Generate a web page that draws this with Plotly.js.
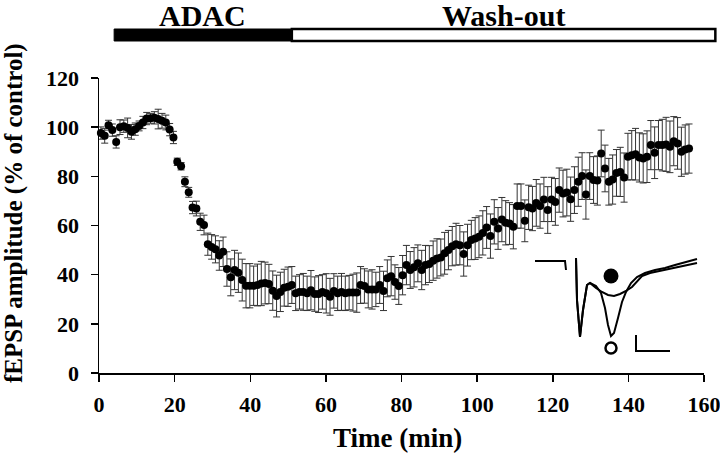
<!DOCTYPE html>
<html><head><meta charset="utf-8">
<script src="https://cdn.plot.ly/plotly-3.0.1.min.js"></script>
<style>html,body{margin:0;padding:0;background:#fff}#chart{width:720px;height:453px}</style>
</head><body><div id="chart"></div>
<script>
// fEPSP amplitude (% of control), one sample per minute
const amplitude = [
  97.6, 96.5, 100.8, 98.8, 94.0, 100.0, 100.4, 99.7, 98.1, 99.2,
  100.5, 101.9, 103.5, 103.6, 103.8, 103.3, 102.6, 101.9, 99.0, 95.8,
  85.9, 84.1, 77.8, 73.5, 67.3, 66.9, 61.5, 60.2, 52.4, 51.3,
  50.3, 47.8, 49.3, 42.3, 38.9, 41.9, 40.8, 37.8, 35.5, 35.5,
  35.5, 35.8, 36.4, 36.6, 36.2, 33.5, 31.3, 33.0, 34.7, 35.1,
  35.8, 32.4, 33.0, 33.0, 32.4, 33.7, 32.1, 32.1, 33.0, 32.4,
  31.0, 33.4, 32.4, 33.0, 32.4, 32.7, 32.7, 32.7, 35.8, 35.4,
  34.0, 34.0, 34.0, 35.8, 33.4, 38.5, 39.4, 37.0, 35.4, 39.8,
  43.9, 41.9, 43.0, 44.6, 41.9, 43.9, 44.3, 45.7, 46.6, 47.0,
  48.7, 50.0, 51.6, 52.4, 52.0, 48.4, 52.0, 54.1, 54.7, 55.4,
  57.0, 59.2, 55.7, 61.5, 58.8, 62.4, 61.1, 60.8, 59.5, 67.9,
  67.9, 61.9, 67.4, 66.9, 69.2, 67.9, 70.6, 66.3, 70.6, 69.6,
  74.4, 73.0, 73.4, 70.7, 74.4, 77.8, 80.1, 72.6, 80.1, 78.5,
  78.3, 89.3, 83.2, 77.8, 78.7, 81.4, 81.8, 79.5, 88.0, 88.6,
  89.0, 87.7, 87.3, 88.0, 92.7, 89.6, 92.7, 92.7, 93.0, 92.0,
  94.3, 93.4, 90.0, 90.9, 91.3
];
const sem = [
  2.5, 3, 2, 2.5, 2.5, 3, 2.5, 4, 3, 2.5, 2, 2.5, 2.5, 2, 2.5, 4, 3, 3, 2.5, 2.5,
  1.5, 1.5, 2, 2, 2.5, 3, 3.5, 4, 4.5, 5, 5.5, 6, 6,
  7, 7.5, 8, 8, 8.5, 9, 9, 8, 8.5, 9, 8.5, 8, 8, 8.5, 8, 7.5, 8, 7.5,
  7, 7, 7.5, 7, 8, 7, 7.5, 7, 8, 7.5, 7, 7, 7.5, 7, 7, 7.5, 8, 7.5, 7, 7.5, 8, 7, 7.5, 8, 7.5, 8, 7, 7.5, 8, 8,
  7.5, 8, 7.5, 8, 8, 7.5, 8, 8, 7.5, 8.5, 8, 8, 8.5, 8, 9, 8.5, 8, 8.5, 8.5, 9, 8.5, 9, 9, 8.5, 9, 9, 8.5, 9, 9, 9,
  8.5, 9, 9, 9.5, 9, 9, 9.5, 9, 9.5, 9, 9.5, 9.5, 9, 9.5, 10, 9.5, 10, 9.5, 9.5, 10, 9.5, 9.5, 9.5, 10, 9.5, 10, 10, 9.5, 10, 10.5, 10, 10, 10.5, 10, 10.5, 10, 10.5, 11, 10.5, 10, 10.5, 10, 10, 10
];
const sampleStart = 0.5;     // min
const sampleInterval = 1.01; // min between samples
const timeMin = amplitude.map((_, i) => sampleStart + i * sampleInterval);

const xTicks = [0, 20, 40, 60, 80, 100, 120, 140, 160];
const yTicks = [0, 20, 40, 60, 80, 100, 120];

// Treatment periods (min)
const periodLabels = ["ADAC", "Wash-out"];
const periodStart = [4, 51];
const periodEnd = [51, 163];

// Inset: example fEPSP traces (arbitrary units)
const artifactX = [5, 35, 36];
const artifactY = [104, 104, 95];
const controlX = [46, 47, 50, 53, 57, 60, 66, 71, 75, 78, 81, 84, 88, 92, 96, 101, 107, 115, 125, 135, 145, 155, 167];
const controlY = [107, 65, 28, 55, 80, 82, 79, 72, 57, 40, 29, 32, 47, 63, 73, 82, 88, 92, 95, 97, 100, 103, 106];
const adacX = [46, 47, 50, 53, 57, 60, 66, 72, 78, 84, 90, 96, 102, 107, 112, 120, 130, 140, 150, 160, 167];
const adacY = [107, 65, 28, 55, 80, 82, 77, 73, 70, 69, 71, 74, 78, 84, 89, 92, 94, 96, 98, 100, 102];
const scaleBarX = [106, 106, 140];
const scaleBarY = [30, 14, 14];
const adacSymbol = {x: 81, y: 89};
const controlSymbol = {x: 81, y: 17};

const serif = "Liberation Serif, Times New Roman, serif";
const X0 = 0, X1 = 160;
const toPaperX = v => (v - X0) / (X1 - X0);

const insetLine = w => ({color: "#000", width: w});
const traces = [
  {
    x: timeMin, y: amplitude, type: "scatter", mode: "markers",
    marker: {color: "#000", size: 8, opacity: 1},
    error_y: {type: "data", array: sem, visible: true, color: "#333", thickness: 1, width: 3.5},
    showlegend: false, cliponaxis: false
  },
  {x: artifactX, y: artifactY, xaxis: "x2", yaxis: "y2", mode: "lines", line: insetLine(2), showlegend: false},
  {x: controlX, y: controlY, xaxis: "x2", yaxis: "y2", mode: "lines", line: insetLine(2), showlegend: false},
  {x: adacX, y: adacY, xaxis: "x2", yaxis: "y2", mode: "lines", line: insetLine(2), showlegend: false},
  {x: scaleBarX, y: scaleBarY, xaxis: "x2", yaxis: "y2", mode: "lines", line: insetLine(2), showlegend: false},
  {x: [adacSymbol.x], y: [adacSymbol.y], xaxis: "x2", yaxis: "y2", mode: "markers",
   marker: {size: 15, color: "#000", opacity: 1, line: {color: "#000", width: 0}}, showlegend: false},
  {x: [controlSymbol.x], y: [controlSymbol.y], xaxis: "x2", yaxis: "y2", mode: "markers",
   marker: {symbol: "circle-open", size: 11, color: "#000", opacity: 1, line: {color: "#000", width: 2.5}}, showlegend: false}
];

const axisCommon = {
  showline: true, linecolor: "#000", linewidth: 1.5, mirror: false,
  ticks: "outside", ticklen: 7, tickwidth: 1.5, tickcolor: "#000",
  showgrid: false, zeroline: false,
  tickfont: {family: serif, size: 22, color: "#000", weight: "bold"}
};

const layout = {
  width: 720, height: 453,
  margin: {l: 99, r: 16, t: 78, b: 80},
  paper_bgcolor: "#fff", plot_bgcolor: "#fff",
  xaxis: Object.assign({}, axisCommon, {range: [X0, X1], tickvals: xTicks, ticktext: xTicks.map(String),
    ticklabelstandoff: 4, ticklabeloverflow: "allow"}),
  yaxis: Object.assign({}, axisCommon, {range: [0, 120], tickvals: yTicks, ticktext: yTicks.map(String),
    ticklabelstandoff: 7}),
  xaxis2: {domain: [0.7124, 0.9934], range: [0, 170], visible: false, fixedrange: true},
  yaxis2: {domain: [0.0271, 0.4], range: [0, 110], visible: false, fixedrange: true},
  shapes: [
    {type: "rect", xref: "paper", yref: "paper", x0: toPaperX(periodStart[0]), x1: toPaperX(periodEnd[0]), y0: 1.1254, y1: 1.1661,
     fillcolor: "#000", line: {color: "#000", width: 1}},
    {type: "rect", xref: "paper", yref: "paper", x0: toPaperX(periodStart[1]), x1: toPaperX(periodEnd[1]), y0: 1.1254, y1: 1.1661,
     fillcolor: "#fff", line: {color: "#000", width: 2.5}}
  ],
  annotations: [
    {text: periodLabels[0], xref: "paper", yref: "paper", x: (toPaperX(periodStart[0]) + toPaperX(periodEnd[0])) / 2, y: 1.212,
     showarrow: false, xanchor: "center", yanchor: "middle", font: {family: serif, size: 30, color: "#000", weight: "bold"}},
    {text: periodLabels[1], xref: "paper", yref: "paper", x: (toPaperX(periodStart[1]) + toPaperX(periodEnd[1])) / 2, y: 1.212,
     showarrow: false, xanchor: "center", yanchor: "middle", font: {family: serif, size: 30, color: "#000", weight: "bold"}},
    {text: "Time (min)", xref: "paper", yref: "paper", x: 0.493, y: -0.22, showarrow: false,
     xanchor: "center", yanchor: "middle", font: {family: serif, size: 27, color: "#000", weight: "bold"}},
    {text: "fEPSP amplitude (% of control)", xref: "paper", yref: "paper", x: -0.1405, y: 0.542, textangle: -90,
     showarrow: false, xanchor: "center", yanchor: "middle", font: {family: serif, size: 25, color: "#000", weight: "bold"}}
  ]
};

Plotly.newPlot("chart", traces, layout, {staticPlot: true, displayModeBar: false});
</script>
</body></html>
